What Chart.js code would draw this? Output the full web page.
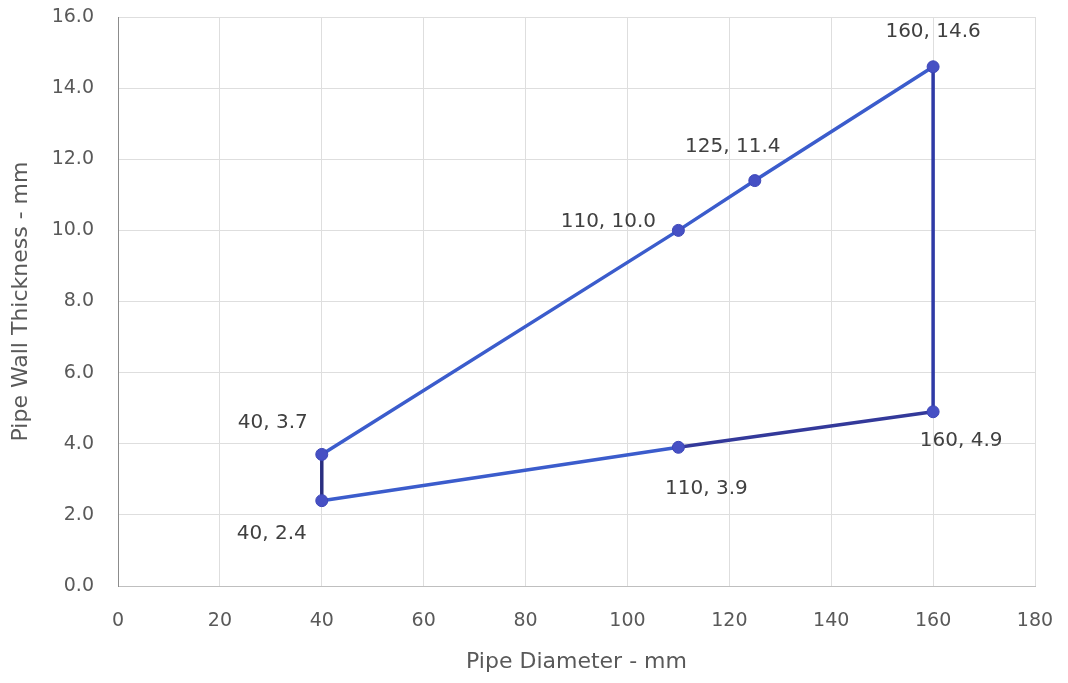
<!DOCTYPE html>
<html>
<head>
<meta charset="utf-8">
<script src="https://cdn.jsdelivr.net/npm/chart.js@4"></script>
<style>
  html, body { margin: 0; padding: 0; background: #fff; }
  #wrap { width: 1068px; height: 683px; }
</style>
</head>
<body>
<div id="wrap"><canvas id="myChart" width="1068" height="683"></canvas></div>
<script>
// pipe diameter (mm) and wall thickness (mm), in drawing order round the outline
var diameters = [40, 110, 125, 160, 160, 110, 40, 40];
var thickness = [3.7, 10.0, 11.4, 14.6, 4.9, 3.9, 2.4, 3.7];
var xTicks = [0, 20, 40, 60, 80, 100, 120, 140, 160, 180];
var yTicks = [0, 2, 4, 6, 8, 10, 12, 14, 16];

// label placement for each point (pixels from the marker)
var labelOffsets = [[-49, -32], [-70, -9], [-22, -34], [0, -35], [28, 29], [28, 41], [-50, 33], null];
var segColors = ['#3b5ccc', '#3b5ccc', '#3b5ccc', '#2f3aa6', '#33399a', '#3b5ccc', '#2a2f80'];

var points = diameters.map(function (d, i) { return { x: d, y: thickness[i] }; });
var font = "'DejaVu Sans', sans-serif";

var pointLabels = {
    id: 'pointLabels',
    afterDatasetsDraw: function (chart) {
        var ctx = chart.ctx;
        var meta = chart.getDatasetMeta(0);
        ctx.save();
        ctx.font = '20px ' + font;
        ctx.fillStyle = '#404040';
        ctx.textAlign = 'center';
        ctx.textBaseline = 'middle';
        meta.data.forEach(function (el, i) {
            var off = labelOffsets[i];
            if (!off) return;
            var txt = diameters[i] + ', ' + thickness[i].toFixed(1);
            ctx.fillText(txt, el.x + off[0], el.y + off[1]);
        });
        ctx.restore();
    }
};

var ctx = document.getElementById('myChart').getContext('2d');
var myChart = new Chart(ctx, {
    type: 'scatter',
    data: {
        datasets: [{
            data: points,
            showLine: true,
            borderWidth: 3.5,
            borderColor: '#3b5ccc',
            segment: {
                borderColor: function (c) { return segColors[c.p0DataIndex]; }
            },
            pointRadius: [6, 6, 6, 6, 6, 6, 6, 0],
            pointBackgroundColor: '#4650c4',
            pointBorderColor: '#3d46b8',
            pointBorderWidth: 1
        }]
    },
    options: {
        responsive: false,
        animation: false,
        layout: { padding: { left: 0, right: 33, top: 0, bottom: 4 } },
        plugins: {
            legend: { display: false },
            tooltip: { enabled: false }
        },
        scales: {
            x: {
                type: 'linear',
                min: 0, max: 180,
                afterBuildTicks: function (s) { s.ticks = xTicks.map(function (v) { return { value: v }; }); },
                afterFit: function (s) {
                    s.height = 683 - 586 - 4;
                    s.paddingLeft = 0;
                    s.paddingRight = 0;
                },
                grid: { color: '#dedede', lineWidth: 1, drawTicks: false },
                border: { color: '#bfbfbf', width: 1 },
                ticks: { color: '#595959', font: { size: 19, family: font }, padding: 24 },
                title: { display: true, text: 'Pipe Diameter - mm', color: '#595959', font: { size: 22, family: font }, padding: { top: 4, bottom: 4 } }
            },
            y: {
                min: 0, max: 16,
                afterBuildTicks: function (s) { s.ticks = yTicks.map(function (v) { return { value: v }; }); },
                afterFit: function (s) {
                    s.width = 118;
                    s.paddingTop = 17;
                    s.paddingBottom = 12;
                },
                grid: { color: '#dedede', lineWidth: 1, drawTicks: false },
                border: { color: '#8c8c8c', width: 1 },
                ticks: {
                    color: '#595959', font: { size: 19, family: font }, padding: 24,
                    callback: function (v) { return v.toFixed(1); }
                },
                title: { display: true, text: 'Pipe Wall Thickness - mm', color: '#595959', font: { size: 22, family: font }, padding: { top: 8, bottom: 4 } }
            }
        }
    },
    plugins: [pointLabels]
});
</script>
</body>
</html>
